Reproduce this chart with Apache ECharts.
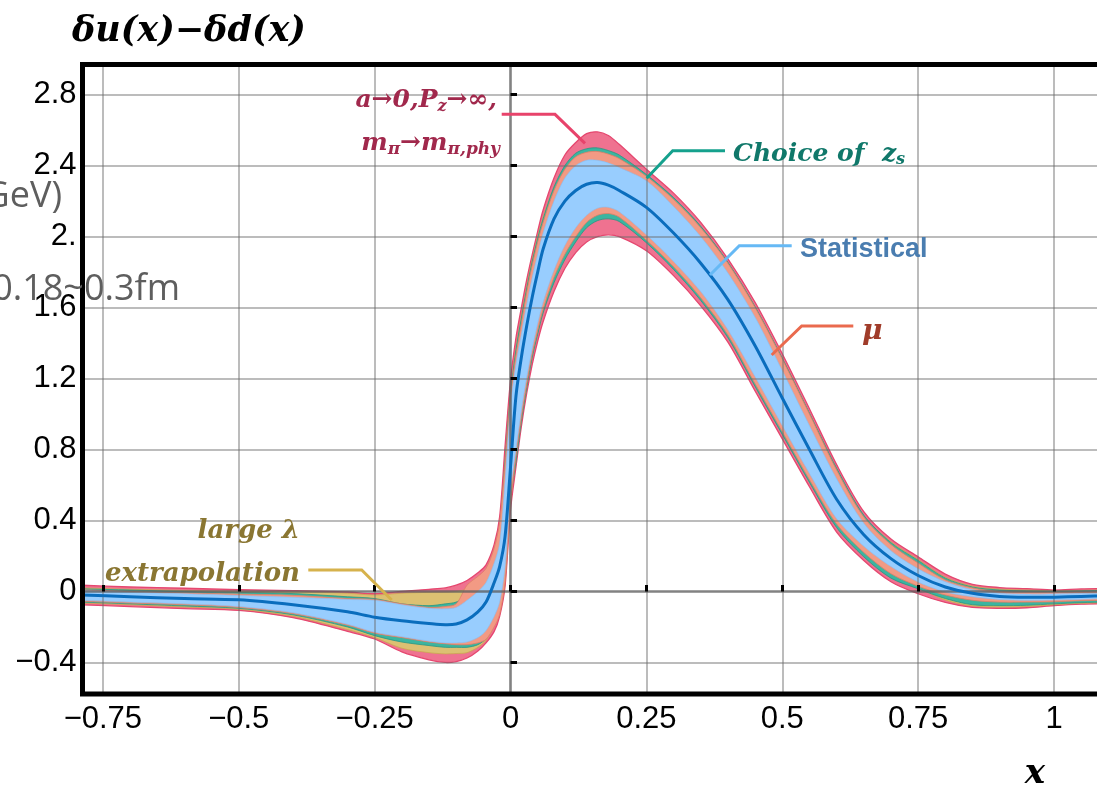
<!DOCTYPE html>
<html>
<head>
<meta charset="utf-8">
<script src="https://cdn.jsdelivr.net/npm/echarts@6.0.0/dist/echarts.min.js"></script>
<style>
html,body{margin:0;padding:0;background:#ffffff;}
#chart{width:1097px;height:789px;}
</style>
</head>
<body>
<div id="chart"></div>
<script>
// ---------------- data ----------------
const xs = [-0.83, -0.79, -0.7, -0.6, -0.5, -0.4, -0.3, -0.25, -0.2, -0.15, -0.12, -0.1, -0.08, -0.06, -0.045, -0.03, -0.02, -0.01, 0, 0.01, 0.02, 0.03, 0.04, 0.05, 0.06, 0.08, 0.1, 0.12, 0.14, 0.16, 0.18, 0.2, 0.25, 0.3, 0.35, 0.4, 0.45, 0.5, 0.55, 0.6, 0.65, 0.7, 0.75, 0.8, 0.85, 0.9, 0.95, 1.0, 1.05, 1.1, 1.14];

const center = [-0.018, -0.02, -0.03, -0.04, -0.047, -0.075, -0.115, -0.145, -0.165, -0.18, -0.187, -0.183, -0.16, -0.115, -0.06, 0.05, 0.14, 0.31, 0.70, 1.10, 1.32, 1.50, 1.66, 1.80, 1.93, 2.10, 2.20, 2.26, 2.295, 2.305, 2.29, 2.26, 2.165, 2.02, 1.85, 1.645, 1.385, 1.09, 0.80, 0.52, 0.32, 0.185, 0.09, 0.025, -0.01, -0.028, -0.033, -0.032, -0.028, -0.024, -0.022];

const statLo = [-0.048, -0.05, -0.06, -0.07, -0.085, -0.12, -0.185, -0.23, -0.255, -0.28, -0.29, -0.29, -0.285, -0.26, -0.22, -0.14, -0.06, 0.14, 0.57, 0.80, 1.02, 1.21, 1.37, 1.51, 1.63, 1.81, 1.95, 2.05, 2.12, 2.16, 2.165, 2.14, 2.01, 1.86, 1.69, 1.475, 1.21, 0.935, 0.665, 0.41, 0.255, 0.14, 0.053, -0.003, -0.03, -0.045, -0.05, -0.048, -0.044, -0.04, -0.038];
const statHi = [0.007, 0.005, -0.005, -0.013, -0.023, -0.033, -0.045, -0.05, -0.075, -0.095, -0.098, -0.09, -0.05, 0.0, 0.05, 0.16, 0.27, 0.62, 1.04, 1.28, 1.45, 1.62, 1.77, 1.90, 2.02, 2.20, 2.33, 2.40, 2.43, 2.43, 2.415, 2.39, 2.315, 2.17, 2.0, 1.795, 1.545, 1.245, 0.935, 0.635, 0.385, 0.23, 0.128, 0.055, 0.01, -0.01, -0.015, -0.014, -0.012, -0.01, -0.008];

const lamLo = [-0.063, -0.065, -0.075, -0.088, -0.10, -0.14, -0.215, -0.26, -0.32, -0.345, -0.352, -0.35, -0.345, -0.315, -0.275, -0.19, -0.11, 0.075, 0.515, 0.735, 0.965, 1.155, 1.325, 1.455, 1.575, 1.745, 1.875, 1.975, 2.055, 2.095, 2.105, 2.09, 1.97, 1.82, 1.645, 1.435, 1.16, 0.89, 0.62, 0.365, 0.2, 0.08, 0.02, -0.048, -0.082, -0.088, -0.085, -0.075, -0.067, -0.064, -0.062];
const lamHi = [0.022, 0.02, 0.012, 0.006, 0.0, -0.002, -0.01, -0.02, -0.01, -0.005, -0.004, 0.0, 0.015, 0.06, 0.09, 0.2, 0.35, 0.74, 1.12, 1.37, 1.55, 1.72, 1.87, 2.0, 2.11, 2.28, 2.395, 2.465, 2.49, 2.495, 2.48, 2.455, 2.345, 2.215, 2.055, 1.852, 1.602, 1.312, 1.002, 0.69, 0.425, 0.28, 0.18, 0.08, 0.03, 0.013, 0.008, 0.003, 0.006, 0.009, 0.01];

const zsLo = [-0.058, -0.06, -0.07, -0.082, -0.095, -0.132, -0.2, -0.249, -0.285, -0.305, -0.315, -0.315, -0.315, -0.30, -0.265, -0.18, -0.10, 0.08, 0.52, 0.73, 0.96, 1.15, 1.32, 1.45, 1.57, 1.74, 1.87, 1.97, 2.05, 2.09, 2.10, 2.085, 1.965, 1.815, 1.64, 1.43, 1.155, 0.885, 0.615, 0.36, 0.195, 0.075, 0.015, -0.04, -0.075, -0.08, -0.078, -0.07, -0.063, -0.06, -0.058];
const zsHi = [0.017, 0.015, 0.008, 0.0, -0.006, -0.012, -0.03, -0.04, -0.07, -0.08, -0.07, -0.06, -0.025, 0.035, 0.08, 0.19, 0.34, 0.73, 1.11, 1.36, 1.54, 1.71, 1.86, 1.99, 2.10, 2.28, 2.40, 2.47, 2.495, 2.50, 2.485, 2.46, 2.35, 2.22, 2.058, 1.855, 1.605, 1.315, 1.005, 0.695, 0.43, 0.275, 0.175, 0.075, 0.025, 0.008, 0.003, 0.0, 0.003, 0.006, 0.007];

const muLo = [-0.053, -0.055, -0.065, -0.075, -0.09, -0.125, -0.19, -0.235, -0.26, -0.285, -0.295, -0.30, -0.30, -0.29, -0.27, -0.20, -0.13, 0.05, 0.49, 0.76, 0.98, 1.17, 1.34, 1.47, 1.59, 1.77, 1.90, 2.0, 2.08, 2.12, 2.13, 2.11, 1.98, 1.83, 1.655, 1.445, 1.17, 0.90, 0.63, 0.38, 0.22, 0.1, 0.03, -0.02, -0.05, -0.06, -0.06, -0.058, -0.052, -0.05, -0.048];
const muHi = [0.012, 0.01, 0.0, -0.008, -0.015, -0.022, -0.04, -0.045, -0.07, -0.09, -0.085, -0.07, 0.035, 0.085, 0.13, 0.245, 0.39, 0.72, 1.09, 1.33, 1.51, 1.69, 1.84, 1.97, 2.08, 2.26, 2.38, 2.45, 2.475, 2.48, 2.465, 2.44, 2.34, 2.21, 2.05, 1.85, 1.60, 1.31, 1.0, 0.685, 0.42, 0.265, 0.16, 0.065, 0.02, 0.0, -0.005, -0.005, -0.003, 0.0, 0.002];

const totLo = [-0.073, -0.075, -0.085, -0.097, -0.107, -0.148, -0.225, -0.268, -0.34, -0.385, -0.40, -0.395, -0.375, -0.335, -0.29, -0.225, -0.14, 0.03, 0.46, 0.70, 0.93, 1.12, 1.28, 1.41, 1.52, 1.69, 1.82, 1.91, 1.97, 2.0, 2.01, 2.0, 1.92, 1.78, 1.61, 1.405, 1.13, 0.86, 0.59, 0.335, 0.175, 0.055, -0.013, -0.062, -0.09, -0.095, -0.092, -0.08, -0.072, -0.07, -0.068];
const totHi = [0.037, 0.035, 0.025, 0.018, 0.01, 0.005, -0.003, -0.013, 0.0, 0.012, 0.02, 0.035, 0.062, 0.105, 0.15, 0.265, 0.42, 0.82, 1.19, 1.43, 1.60, 1.76, 1.90, 2.03, 2.15, 2.33, 2.46, 2.53, 2.58, 2.59, 2.57, 2.52, 2.38, 2.245, 2.08, 1.875, 1.63, 1.34, 1.03, 0.715, 0.45, 0.295, 0.195, 0.098, 0.04, 0.022, 0.016, 0.008, 0.014, 0.016, 0.017];

const xTicks = [-0.75, -0.5, -0.25, 0, 0.25, 0.5, 0.75, 1];
const xTickLabels = ['\u22120.75', '\u22120.5', '\u22120.25', '0', '0.25', '0.5', '0.75', '1'];
const yTicks = [-0.4, 0, 0.4, 0.8, 1.2, 1.6, 2.0, 2.4, 2.8];
const yTickLabels = ['\u22120.4', '0', '0.4', '0.8', '1.2', '1.6', '2.', '2.4', '2.8'];

// ---------------- chart ----------------
const chart = echarts.init(document.getElementById('chart'), null, {renderer: 'canvas', width: 1097, height: 789});

function labelFor(ticks, labels, v) {
  for (let i = 0; i < ticks.length; i++) if (Math.abs(ticks[i] - v) < 1e-9) return labels[i];
  return '';
}

function band(name, lo, hi, fill, stroke, lw) {
  return {
    type: 'custom',
    name: name,
    coordinateSystem: 'cartesian2d',
    data: xs.map((x, i) => [x, lo[i], hi[i]]),
    encode: {x: 0, y: [1, 2]},
    clip: true,
    silent: true,
    z: 2,
    renderItem: function (params, api) {
      if (params.dataIndexInside !== 0) return null;
      const pts = [];
      for (let i = 0; i < xs.length; i++) pts.push(api.coord([xs[i], hi[i]]));
      for (let i = xs.length - 1; i >= 0; i--) pts.push(api.coord([xs[i], lo[i]]));
      return {
        type: 'polygon',
        shape: {points: pts, smooth: 0.3},
        style: {fill: fill, stroke: stroke, lineWidth: lw}
      };
    }
  };
}

function curve(name, ys, color, lw) {
  return {
    type: 'custom',
    name: name,
    coordinateSystem: 'cartesian2d',
    data: xs.map((x, i) => [x, ys[i]]),
    encode: {x: 0, y: 1},
    clip: true,
    silent: true,
    z: 6,
    renderItem: function (params, api) {
      if (params.dataIndexInside !== 0) return null;
      const pts = xs.map((x, i) => api.coord([x, ys[i]]));
      return {
        type: 'polyline',
        shape: {points: pts, smooth: 0.3},
        style: {fill: null, stroke: color, lineWidth: lw, lineJoin: 'round'}
      };
    }
  };
}

const gridStyle = {color: 'rgba(105,105,105,0.6)', width: 1.5, type: 'solid'};
const zeroStyle = {color: 'rgba(95,95,95,0.78)', width: 2.6, type: 'solid'};
const gridLineData = [];
xTicks.forEach(v => gridLineData.push({xAxis: v, lineStyle: v === 0 ? zeroStyle : gridStyle}));
yTicks.forEach(v => gridLineData.push({yAxis: v, lineStyle: v === 0 ? zeroStyle : gridStyle}));

const serif = '"DejaVu Serif", "Liberation Serif", serif';
const sans = '"Liberation Sans", Arial, sans-serif';

const option = {
  animation: false,
  backgroundColor: '#ffffff',
  grid: {left: 82.5, top: 64.5, width: 1014.5, height: 629.5, show: false},
  xAxis: {
    type: 'value', min: -0.7875, max: 1.0791, z: 10,
    axisLine: {show: false},
    splitLine: {show: false},
    axisTick: {show: true, inside: true, length: 6.5, lineStyle: {color: '#000', width: 3}, customValues: xTicks},
    axisLabel: {customValues: xTicks, formatter: v => labelFor(xTicks, xTickLabels, v), color: '#000', fontSize: 31, fontFamily: sans, margin: 10}
  },
  yAxis: {
    type: 'value', min: -0.578, max: 2.97, z: 10,
    axisLine: {show: false},
    splitLine: {show: false},
    axisTick: {show: true, inside: true, length: 6.5, lineStyle: {color: '#000', width: 3}, customValues: yTicks},
    axisLabel: {customValues: yTicks, formatter: v => labelFor(yTicks, yTickLabels, v), color: '#000', fontSize: 31, fontFamily: sans, margin: 6}
  },
  series: [
    band('total', totLo, totHi, '#ef7290', '#e5476f', 1.3),
    band('lambda', lamLo, lamHi, '#dcc072', '#c9a84e', 0.7),
    band('zs', zsLo, zsHi, '#3bb5a0', '#2a9584', 0.8),
    band('mu', muLo, muHi, '#f29a84', '#e07e66', 0.8),
    band('stat', statLo, statHi, '#98cdfe', '#86c0f4', 0.6),
    {
      type: 'line', name: 'grid', data: [], silent: true,
      markLine: {silent: true, symbol: ['none', 'none'], label: {show: false}, animation: false, z: 5, data: gridLineData}
    },
    curve('central', center, '#0a6dbd', 3)
  ],
  graphic: [
    {type: 'rect', z: 100, silent: true, shape: {x: 82.5, y: 64.5, width: 1040, height: 629.5}, style: {fill: 'none', stroke: '#000', lineWidth: 5}},
    // title and axis name
    {type: 'text', z: 100, x: 72, y: 32, style: {text: '\u03b4u(x)\u2212\u03b4d(x)', font: 'bold italic 35px ' + serif, fill: '#000', align: 'left', textAlign: 'left', verticalAlign: 'middle', textVerticalAlign: 'middle'}},
    {type: 'text', z: 100, x: 1035, y: 774, style: {text: 'x', font: 'bold italic 34px ' + serif, fill: '#000', align: 'center', textAlign: 'center', verticalAlign: 'middle', textVerticalAlign: 'middle'}},
    // clipped grey texts at left
    {type: 'text', z: 101, x: 62, y: 197, style: {text: 'GeV)', font: '36px "Open Sans", "Noto Sans", sans-serif', fill: '#5e5e5e', align: 'right', textAlign: 'right', verticalAlign: 'middle', textVerticalAlign: 'middle'}},
    {type: 'text', z: 101, x: 180, y: 290, style: {text: '0.18~0.3fm', font: '36px "Open Sans", "Noto Sans", sans-serif', fill: '#5e5e5e', align: 'right', textAlign: 'right', verticalAlign: 'middle', textVerticalAlign: 'middle'}},
    // annotation: a->0 ...
    {type: 'text', z: 100, x: 497, y: 100, style: {
      text: '{m|a\u21920,P}{s|z}{m|\u2192\u221e,}', align: 'right', textAlign: 'right', verticalAlign: 'middle', textVerticalAlign: 'middle',
      rich: {m: {font: 'bold italic 25px ' + serif, fill: '#a1284c', color: '#a1284c'}, s: {font: 'bold italic 16px ' + serif, fill: '#a1284c', color: '#a1284c', padding: [13, 0, 0, 0]}}
    }},
    {type: 'text', z: 100, x: 500, y: 143, style: {
      text: '{m|m}{s|\u03c0}{m|\u2192m}{s|\u03c0,phy}', align: 'right', textAlign: 'right', verticalAlign: 'middle', textVerticalAlign: 'middle',
      rich: {m: {font: 'bold italic 25px ' + serif, fill: '#a1284c', color: '#a1284c'}, s: {font: 'bold italic 17px ' + serif, fill: '#a1284c', color: '#a1284c', padding: [13, 0, 0, 0]}}
    }},
    {type: 'polyline', z: 100, silent: true, shape: {points: [[501.7, 114.3], [555, 114.3], [585, 143.3]]}, style: {stroke: '#e8436b', lineWidth: 3, fill: null}},
    // Choice of z_s
    {type: 'text', z: 100, x: 733, y: 154, style: {
      text: '{m|Choice of  z}{s|s}', align: 'left', textAlign: 'left', verticalAlign: 'middle', textVerticalAlign: 'middle',
      rich: {m: {font: 'bold italic 25px ' + serif, fill: '#10786a', color: '#10786a'}, s: {font: 'bold italic 16px ' + serif, fill: '#10786a', color: '#10786a', padding: [12, 0, 0, 0]}}
    }},
    {type: 'polyline', z: 100, silent: true, shape: {points: [[725, 150.7], [672.7, 150.7], [646.7, 178.3]]}, style: {stroke: '#15a18d', lineWidth: 3, fill: null}},
    // Statistical
    {type: 'text', z: 100, x: 800, y: 250, style: {text: 'Statistical', font: 'bold 27px ' + sans, fill: '#4a7db0', align: 'left', textAlign: 'left', verticalAlign: 'middle', textVerticalAlign: 'middle'}},
    {type: 'polyline', z: 100, silent: true, shape: {points: [[791.7, 245.7], [739.3, 245.7], [710, 275]]}, style: {stroke: '#66b9f5', lineWidth: 3, fill: null}},
    // mu
    {type: 'text', z: 100, x: 862, y: 332, style: {text: '\u03bc', font: 'bold italic 28px ' + serif, fill: '#a03c2a', align: 'left', textAlign: 'left', verticalAlign: 'middle', textVerticalAlign: 'middle'}},
    {type: 'polyline', z: 100, silent: true, shape: {points: [[853.3, 326], [801.7, 326], [771.7, 355]]}, style: {stroke: '#ea6a4e', lineWidth: 3, fill: null}},
    // large lambda extrapolation
    {type: 'text', z: 100, x: 300, y: 531, style: {text: 'large \u03bb', font: 'bold italic 26px ' + serif, fill: '#8a7632', align: 'right', textAlign: 'right', verticalAlign: 'middle', textVerticalAlign: 'middle'}},
    {type: 'text', z: 100, x: 300, y: 574, style: {text: 'extrapolation', font: 'bold italic 26px ' + serif, fill: '#8a7632', align: 'right', textAlign: 'right', verticalAlign: 'middle', textVerticalAlign: 'middle'}},
    {type: 'polyline', z: 100, silent: true, shape: {points: [[308.3, 570], [361.7, 570], [391.7, 600]]}, style: {stroke: '#d6b24c', lineWidth: 3, fill: null}}
  ]
};

chart.setOption(option);
</script>
</body>
</html>
